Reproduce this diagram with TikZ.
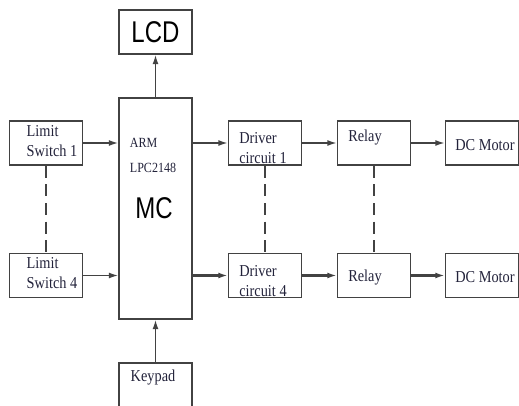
\documentclass[tikz,border=0pt]{standalone}
\usepackage{fontspec}
\setmainfont{Liberation Serif}[FakeStretch=0.86]
\newfontfamily\bigsans{Liberation Sans}[FakeStretch=0.8]
\usetikzlibrary{positioning,calc,arrows.meta}
\definecolor{linec}{HTML}{424242}
\definecolor{textc}{HTML}{22223A}

\begin{document}
\begin{tikzpicture}[x=0.75pt, y=-0.75pt,
  blk/.style={draw=linec, line width=1.1pt, minimum width=54.75pt, minimum height=33pt, inner sep=0pt},
  txt/.style={text=textc, align=left, inner sep=0pt, font=\fontsize{12.5}{15}\selectfont},
  big/.style={text=black, inner sep=0pt, font=\bigsans\fontsize{22.5}{27}\selectfont},
  arr/.style={draw=linec, line width=1.1pt, -{Latex[length=7pt,width=4.4pt]}},
  link/.style={draw=linec, line width=1.1pt, dash pattern=on 9pt off 5pt}]
  \clip (0,0) rectangle (519,406);
  % controller column
  \node[blk] (lcd) at (155.5,32) {};
  \node[blk, minimum height=165.75pt] (mc) at (155.5,208.5) {};
  \node[blk, minimum height=45pt] (kp) at (155.5,393) {};
  \node[big] (lcdt) at (lcd.center) {LCD};
  \node[big] (mct) at ([shift={(-1.5,0)}]mc.center) {MC};
  \node[txt, font=\fontsize{10.5}{19}\selectfont] (armt) at ([shift={(-2.5,-53)}]mc.center) {ARM\\LPC2148};
  \node[txt] (kpt) at ([shift={(-2.5,15)}]kp.north) {Keypad};
  % limit switches
  \node[blk] (ls1) at (46,143) {};
  \node[blk] (ls4) at (46,275.5) {};
  \node[txt] (ls1t) at ([shift={(6,-2)}]ls1.center) {Limit\\Switch 1};
  \node[txt] (ls4t) at ([shift={(6,-2.5)}]ls4.center) {Limit\\Switch 4};
  % driver circuits
  \node[blk] (drv1) at (265,143) {};
  \node[blk] (drv4) at (265,275.5) {};
  \node[txt] (drv1t) at ([shift={(-2,5.5)}]drv1.center) {Driver\\circuit 1};
  \node[txt] (drv4t) at ([shift={(-2,6)}]drv4.center) {Driver\\circuit 4};
  % relays
  \node[blk] (rl1) at (374,143) {};
  \node[blk] (rl4) at (374,275.5) {};
  \node[txt] (rl1t) at ([shift={(-9,-5.5)}]rl1.center) {Relay};
  \node[txt] (rl4t) at ([shift={(-9,2)}]rl4.center) {Relay};
  % motors
  \node[blk] (dc1) at (482,143) {};
  \node[blk] (dc4) at (482,275.5) {};
  \node[txt] (dc1t) at ([shift={(3,2.5)}]dc1.center) {DC Motor};
  \node[txt] (dc4t) at ([shift={(3,2)}]dc4.center) {DC Motor};
  % connections
  \draw[arr] (mc.north) -- (lcd.south);
  \draw[arr] (kp.north) -- (mc.south);
  \draw[arr] (ls1.east) -- (ls1.east -| mc.west);
  \draw[arr] (ls4.east) -- (ls4.east -| mc.west);
  \draw[arr] (mc.east |- drv1.west) -- (drv1.west);
  \draw[arr] (drv1.east) -- (rl1.west);
  \draw[arr] (rl1.east) -- (dc1.west);
  \draw[arr, line width=1.6pt] (mc.east |- drv4.west) -- (drv4.west);
  \draw[arr, line width=1.6pt] (drv4.east) -- (rl4.west);
  \draw[arr, line width=1.6pt] (rl4.east) -- (dc4.west);
  % repeated channels
  \draw[link] (ls1.south) -- (ls4.north);
  \draw[link] (drv1.south) -- (drv4.north);
  \draw[link] (rl1.south) -- (rl4.north);
\end{tikzpicture}
\end{document}
